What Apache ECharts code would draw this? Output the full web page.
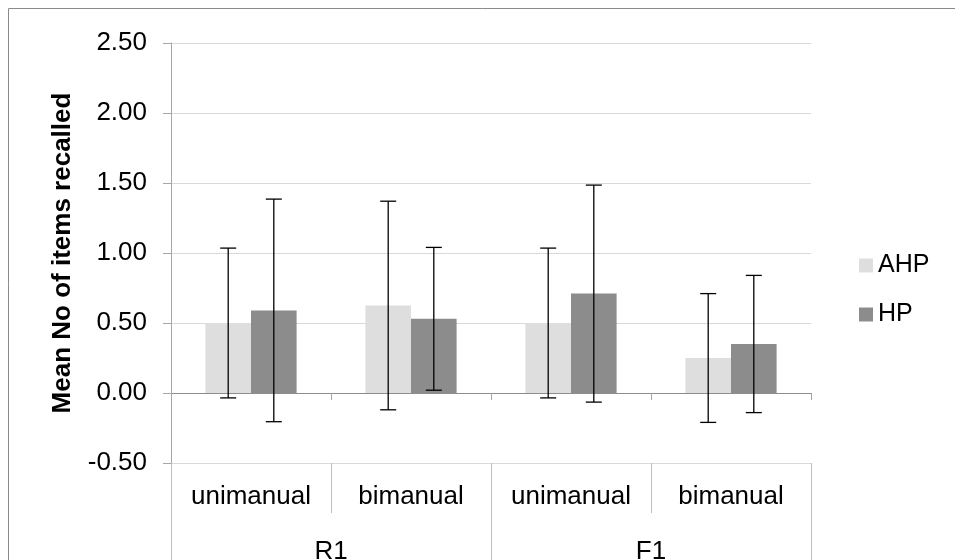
<!DOCTYPE html>
<html>
<head>
<meta charset="utf-8">
<script src="https://cdn.jsdelivr.net/npm/echarts@6/dist/echarts.min.js"></script>
<style>
html,body{margin:0;padding:0;background:#fff;}
#chart{width:955px;height:560px;}
</style>
</head>
<body>
<div id="chart"></div>
<script>
// ---- data ----
var categories = ['unimanual', 'bimanual', 'unimanual', 'bimanual'];
var groups = ['R1', 'F1'];
var seriesNames = ['AHP', 'HP'];
var ahpMean = [0.50, 0.625, 0.50, 0.25];
var ahpErr  = [0.535, 0.745, 0.535, 0.46];
var hpMean  = [0.59, 0.53, 0.71, 0.35];
var hpErr   = [0.795, 0.51, 0.775, 0.49];
var yTicks  = [-0.5, 0, 0.5, 1.0, 1.5, 2.0, 2.5];

// ---- chart ----
var FONT = 'Liberation Sans, Arial, sans-serif';
var GAP = 0.43;
var chart = echarts.init(document.getElementById('chart'), null, {renderer: 'canvas'});

function errData(mean, err) {
  return mean.map(function (m, i) { return [i, m - err[i], m + err[i]]; });
}
function errSeries(name, mean, err, sign) {
  return {
    type: 'custom',
    name: name + ' error',
    xAxisIndex: 0,
    yAxisIndex: 0,
    z: 5,
    silent: true,
    encode: {x: 0, y: [1, 2]},
    data: errData(mean, err),
    renderItem: function (params, api) {
      var idx = api.value(0);
      var lo = api.value(1), hi = api.value(2);
      var band = api.size([1, 0])[0];
      var off = sign * band * (1 - GAP) / 4;
      var pTop = api.coord([idx, hi]);
      var pBot = api.coord([idx, lo]);
      var x = pTop[0] + off;
      var cap = 8;
      var st = {stroke: '#000', lineWidth: 1.3};
      return {
        type: 'group',
        children: [
          {type: 'line', shape: {x1: x, y1: pTop[1], x2: x, y2: pBot[1]}, style: st},
          {type: 'line', shape: {x1: x - cap, y1: pTop[1], x2: x + cap, y2: pTop[1]}, style: st},
          {type: 'line', shape: {x1: x - cap, y1: pBot[1], x2: x + cap, y2: pBot[1]}, style: st}
        ]
      };
    }
  };
}

var option = {
  animation: false,
  backgroundColor: '#fff',
  textStyle: {fontFamily: FONT},
  graphic: [{
    type: 'rect',
    shape: {x: 8.5, y: 8.5, width: 1200, height: 1200},
    style: {fill: 'none', stroke: '#8a8a8a', lineWidth: 1},
    silent: true, z: 0
  }],
  legend: {
    orient: 'vertical',
    left: 854,
    top: 248,
    itemWidth: 14,
    itemHeight: 14,
    itemGap: 24,
    icon: 'rect',
    data: seriesNames,
    textStyle: {fontSize: 25, color: '#000', fontFamily: FONT}
  },
  grid: {left: 171, top: 43, width: 640, height: 420, containLabel: false, outerBoundsMode: 'none'},
  yAxis: {
    type: 'value',
    min: yTicks[0],
    max: yTicks[yTicks.length - 1],
    interval: 0.5,
    name: 'Mean No of items recalled',
    nameLocation: 'middle',
    nameGap: 95,
    nameRotate: 90,
    nameTextStyle: {fontSize: 26, fontWeight: 'bold', color: '#000', fontFamily: FONT},
    axisLine: {show: true, lineStyle: {color: '#a6a6a6', width: 1}},
    axisTick: {show: true, inside: false, length: 8, lineStyle: {color: '#a6a6a6'}},
    axisLabel: {
      fontSize: 26, color: '#000', margin: 24, fontFamily: FONT,
      formatter: function (v) { return v.toFixed(2); }
    },
    splitLine: {show: true, lineStyle: {color: '#d9d9d9', width: 1}}
  },
  xAxis: [
    {
      type: 'category',
      data: categories,
      axisLine: {show: true, onZero: true, lineStyle: {color: '#8c8c8c', width: 1}},
      axisTick: {show: true, length: 7, interval: 0, lineStyle: {color: '#a6a6a6'}},
      axisLabel: {show: false},
      splitLine: {show: false}
    },
    {
      type: 'category',
      data: categories,
      position: 'bottom',
      axisLine: {show: false, onZero: false},
      axisTick: {show: true, length: 50, interval: 0, lineStyle: {color: '#bfbfbf'}},
      axisLabel: {show: true, interval: 0, fontSize: 26, color: '#000', margin: 21, fontFamily: FONT},
      splitLine: {show: false}
    },
    {
      type: 'category',
      data: groups,
      position: 'bottom',
      axisLine: {show: false, onZero: false},
      axisTick: {show: true, length: 110, interval: 0, lineStyle: {color: '#bfbfbf'}},
      axisLabel: {show: true, interval: 0, fontSize: 26, color: '#000', margin: 76, fontFamily: FONT},
      splitLine: {show: false}
    }
  ],
  series: [
    {
      type: 'bar', name: seriesNames[0], data: ahpMean, xAxisIndex: 0,
      barGap: '0%', barCategoryGap: (GAP * 100) + '%',
      itemStyle: {color: '#dedede'}
    },
    {
      type: 'bar', name: seriesNames[1], data: hpMean, xAxisIndex: 0,
      barGap: '0%', barCategoryGap: (GAP * 100) + '%',
      itemStyle: {color: '#8c8c8c'}
    },
    errSeries('AHP', ahpMean, ahpErr, -1),
    errSeries('HP', hpMean, hpErr, 1)
  ]
};
chart.setOption(option);
</script>
</body>
</html>
